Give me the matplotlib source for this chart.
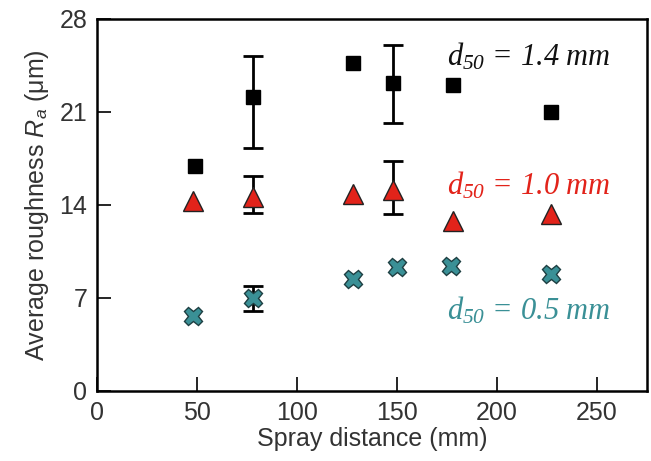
import matplotlib
matplotlib.use("Agg")
import matplotlib.pyplot as plt

plt.rcParams['font.family'] = ['Liberation Sans', 'DejaVu Sans']
plt.rcParams['mathtext.fontset'] = 'custom'
plt.rcParams['mathtext.rm'] = 'Liberation Serif:italic'
plt.rcParams['mathtext.it'] = 'Liberation Serif:italic'
plt.rcParams['mathtext.sf'] = 'Liberation Sans:italic'

# Data: d50 = 1.4 mm (squares)
x_14 = [49, 78, 128, 148, 178, 227]
y_14 = [16.9, 22.1, 24.7, 23.2, 23.0, 21.0]
err_lo_14 = [0, 3.8, 0, 3.0, 0, 0]
err_hi_14 = [0, 3.1, 0, 2.85, 0, 0]

# d50 = 1.0 mm (triangles)
x_10 = [48, 78, 128, 148, 178, 227]
y_10 = [14.3, 14.6, 14.8, 15.1, 12.8, 13.3]
err_lo_10 = [0, 1.2, 0, 1.8, 0, 0]
err_hi_10 = [0, 1.6, 0, 2.2, 0, 0]

# d50 = 0.5 mm (crosses)
x_05 = [48, 78, 128, 150, 177, 227]
y_05 = [5.65, 7.0, 8.4, 9.35, 9.4, 8.8]
err_lo_05 = [0, 1.0, 0, 0, 0, 0]
err_hi_05 = [0, 0.9, 0, 0, 0, 0]

labels = [r'$d_{50}$ = 1.4 mm', r'$d_{50}$ = 1.0 mm', r'$d_{50}$ = 0.5 mm']

xticks = [0, 50, 100, 150, 200, 250]
yticks = [0, 7, 14, 21, 28]

red = '#e2231a'
teal = '#3a9096'

fig = plt.figure(figsize=(6.51, 4.61), dpi=100)
ax = fig.add_axes([0.149, 0.152, 0.845, 0.807])

def has_err(lo, hi):
    return [i for i in range(len(lo)) if lo[i] > 0 or hi[i] > 0]

for xs, ys, lo, hi in [(x_14, y_14, err_lo_14, err_hi_14),
                       (x_10, y_10, err_lo_10, err_hi_10),
                       (x_05, y_05, err_lo_05, err_hi_05)]:
    idx = has_err(lo, hi)
    ax.errorbar([xs[i] for i in idx], [ys[i] for i in idx],
                yerr=[[lo[i] for i in idx], [hi[i] for i in idx]],
                fmt='none', ecolor='black', elinewidth=2, capsize=7,
                capthick=2, zorder=2)

ax.plot(x_14, y_14, 's', color='black', markersize=10.5, zorder=3)
ax.plot(x_10, y_10, '^', color=red, markeredgecolor='#222222',
        markeredgewidth=1.0, markersize=14, zorder=3)
ax.plot(x_05, y_05, 'X', color=teal, markeredgecolor='#1e3f42',
        markeredgewidth=1.0, markersize=13, zorder=3)

ax.text(175, 24.5, labels[0], color='#111111', fontsize=22,
        family='Liberation Serif', style='italic')
ax.text(175, 14.75, labels[1], color=red, fontsize=22,
        family='Liberation Serif', style='italic')
ax.text(175, 5.35, labels[2], color=teal, fontsize=22,
        family='Liberation Serif', style='italic')

ax.set_xlim(0, 275)
ax.set_ylim(0, 28)
ax.set_xticks(xticks)
ax.set_yticks(yticks)
ax.tick_params(direction='in', length=10, width=1.2, labelsize=18,
               labelcolor='#333333', pad=7)
for s in ax.spines.values():
    s.set_linewidth(1.8)
ax.set_xlabel('Spray distance (mm)', fontsize=18, color='#333333', labelpad=2)
ax.set_ylabel(r'Average roughness $\mathsf{R}_\mathsf{a}$ (μm)', fontsize=18,
              color='#333333', labelpad=6)

fig.savefig('out.png', dpi=100)
